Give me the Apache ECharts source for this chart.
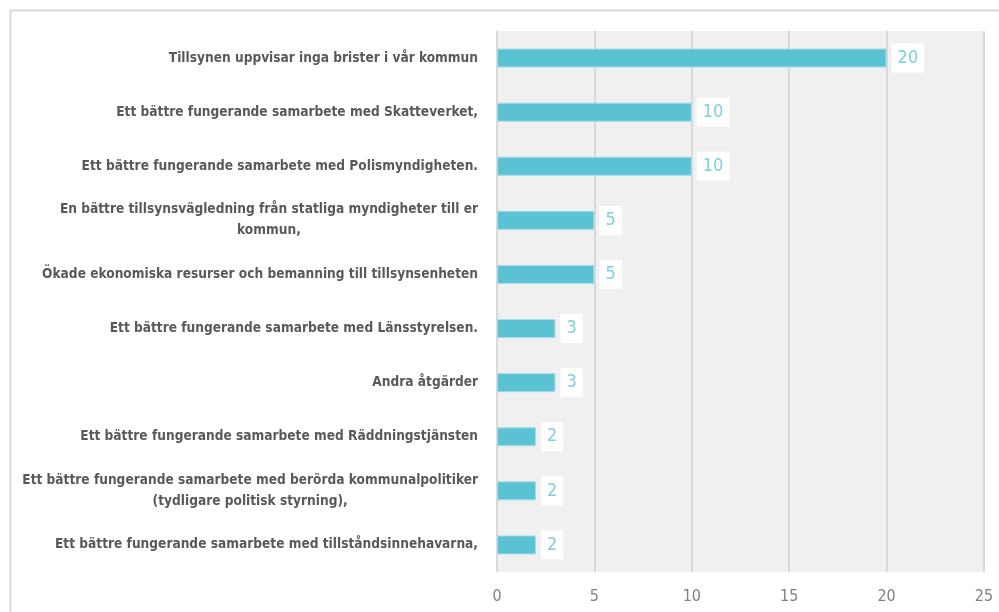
<!DOCTYPE html>
<html>
<head>
<meta charset="utf-8">
<script src="https://cdn.jsdelivr.net/npm/echarts@6/dist/echarts.min.js"></script>
<style>
  html, body { margin: 0; padding: 0; background: #fff; }
  #chart { width: 999px; height: 612px; }
</style>
</head>
<body>
<div id="chart"></div>
<script>
const categories = [
  'Tillsynen uppvisar inga brister i vår kommun',
  'Ett bättre fungerande samarbete med Skatteverket,',
  'Ett bättre fungerande samarbete med Polismyndigheten.',
  'En bättre tillsynsvägledning från statliga myndigheter till er\nkommun,',
  'Ökade ekonomiska resurser och bemanning till tillsynsenheten',
  'Ett bättre fungerande samarbete med Länsstyrelsen.',
  'Andra åtgärder',
  'Ett bättre fungerande samarbete med Räddningstjänsten',
  'Ett bättre fungerande samarbete med berörda kommunalpolitiker\n(tydligare politisk styrning),',
  'Ett bättre fungerande samarbete med tillståndsinnehavarna,'
]
const values = [20, 10, 10, 5, 5, 3, 3, 2, 2, 2]
const xTicks = [0, 5, 10, 15, 20, 25]

const font = "'Liberation Sans Narrow', 'DejaVu Sans Condensed', sans-serif"

const chart = echarts.init(document.getElementById('chart'))

chart.setOption({
  backgroundColor: '#fff',
  animation: false,
  graphic: [
    {
      type: 'rect',
      shape: {x: 10.5, y: 10.5, width: 1100, height: 700},
      style: {fill: 'none', stroke: '#d9d9d9', lineWidth: 2},
      silent: true
    }
  ],
  grid: {
    left: 497, right: 15, top: 31, bottom: 40,
    containLabel: false, outerBoundsMode: 'none',
    show: true, backgroundColor: '#f0f0f0', borderWidth: 0
  },
  xAxis: {
    type: 'value',
    min: xTicks[0],
    max: xTicks[xTicks.length - 1],
    interval: 5,
    axisLine: {show: false},
    axisTick: {show: false},
    splitLine: {lineStyle: {color: '#d9d9d9', width: 2}},
    axisLabel: {
      color: '#808080', fontSize: 16, fontFamily: font, margin: 17
    }
  },
  yAxis: {
    type: 'category',
    inverse: true,
    data: categories,
    axisLine: {show: false},
    axisTick: {show: false},
    axisLabel: {
      margin: 19,
      align: 'right',
      formatter: v => v.split('\n').map(l => '{c|' + l + '}').join('\n'),
      rich: {
        c: {
          align: 'center', fontFamily: font, fontWeight: 'bold',
          fontSize: 13.6, color: '#595959', lineHeight: 21
        }
      }
    }
  },
  series: [
    {
      type: 'bar',
      data: values,
      barWidth: 19,
      itemStyle: {color: '#5bc2d3', borderColor: '#a6dde6', borderWidth: 1},
      label: {
        show: true,
        position: 'right',
        distance: 5,
        color: '#7fcfdc',
        fontFamily: font,
        fontSize: 18,
        backgroundColor: '#fff',
        padding: [6, 6, 5, 6]
      }
    }
  ]
})
</script>
</body>
</html>
